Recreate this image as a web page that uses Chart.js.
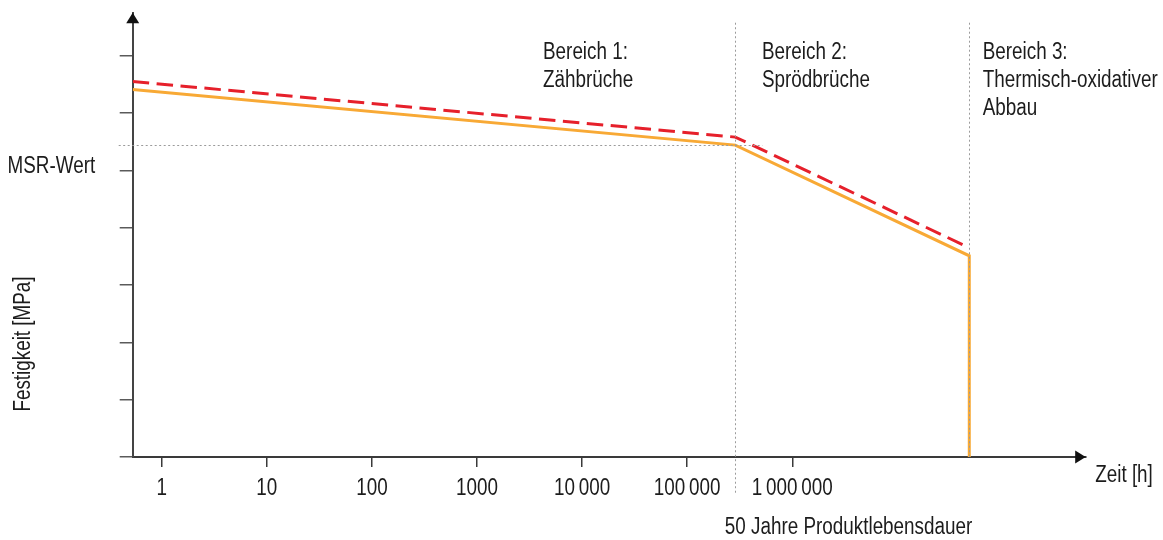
<!DOCTYPE html>
<html>
<head>
<meta charset="utf-8">
<script src="https://cdn.jsdelivr.net/npm/chart.js@4.4.1/dist/chart.umd.min.js"></script>
<style>
  html, body { margin: 0; padding: 0; background: #fff; }
  canvas { display: block; }
</style>
</head>
<body>
<canvas id="chart" width="1163" height="540"></canvas>
<script>
// Festigkeit über der Zeit (logarithmisch), drei Versagensbereiche
const hours = [0.53, 2.87e5, 4.83e7, 4.83e7];
const solidStrength = [6.41, 5.44, 3.51, 0];
const dashedStrength = [6.55, 5.58, 3.65];

const tickHours = [1, 10, 100, 1000, 10000, 100000, 1000000];
const tickLabels = ['1', '10', '100', '1000', '10\u2009000', '100\u2009000', '1\u2009000\u2009000'];
const strengthTicks = [0, 1, 2, 3, 4, 5, 6, 7];

const msrValue = 5.44;           // MSR-Wert
const lifetimeHours = 2.87e5;    // 50 Jahre Produktlebensdauer
const degradationHours = 4.83e7; // Beginn Bereich 3

const regionTitles = ['Bereich 1:', 'Bereich 2:', 'Bereich 3:'];
const regionTexts = [['Zähbrüche'], ['Sprödbrüche'], ['Thermisch-oxidativer', 'Abbau']];
const regionAnchors = [4.25e3, 5.15e5, 6.48e7];

const FONT = '"Liberation Sans", Arial, sans-serif';
const TEXT = '#1c1c1c';
const AXIS = '#3a3a3a';
const NARROW = 0.82; // schmale Schrift: horizontal gestauchte Liberation Sans

Chart.defaults.font.family = FONT;
Chart.defaults.color = TEXT;

function narrowText(ctx, text, x, y, align) {
  ctx.save();
  ctx.translate(x, y);
  ctx.scale(NARROW, 1);
  ctx.textAlign = align || 'left';
  ctx.fillText(text, 0, 0);
  ctx.restore();
}

const overlay = {
  id: 'overlay',
  afterDatasetsDraw(chart) {
    const { ctx, chartArea: a, scales: { x, y } } = chart;
    ctx.save();
    ctx.strokeStyle = '#9b9b9b';
    ctx.lineWidth = 1;
    ctx.setLineDash([2, 2.5]);
    const top = y.getPixelForValue(7.575);

    // Lebensdauer-Linie (reicht bis unter die Achsbeschriftung)
    let px = Math.round(x.getPixelForValue(lifetimeHours)) + 0.5;
    ctx.beginPath(); ctx.moveTo(px, top); ctx.lineTo(px, a.bottom + 38); ctx.stroke();

    // Grenze zu Bereich 3
    px = Math.round(x.getPixelForValue(degradationHours)) + 0.5;
    ctx.beginPath(); ctx.moveTo(px, top); ctx.lineTo(px, a.bottom); ctx.stroke();

    // MSR-Wert
    const py = Math.round(y.getPixelForValue(msrValue)) + 0.5;
    ctx.beginPath(); ctx.moveTo(a.left - 14, py); ctx.lineTo(x.getPixelForValue(5.2e5), py); ctx.stroke();
    ctx.restore();
  },
  afterDraw(chart) {
    const { ctx, chartArea: a, scales: { x, y } } = chart;
    ctx.save();

    // Pfeilspitzen der Achsen
    ctx.fillStyle = '#111';
    ctx.beginPath();
    ctx.moveTo(a.left, a.top);
    ctx.lineTo(a.left - 6.5, a.top + 10.5);
    ctx.lineTo(a.left + 6.5, a.top + 10.5);
    ctx.closePath(); ctx.fill();
    ctx.beginPath();
    ctx.moveTo(a.right, a.bottom);
    ctx.lineTo(a.right - 10.5, a.bottom - 6.5);
    ctx.lineTo(a.right - 10.5, a.bottom + 6.5);
    ctx.closePath(); ctx.fill();

    ctx.fillStyle = TEXT;
    ctx.font = '23px ' + FONT;
    ctx.textBaseline = 'alphabetic';

    // Achsbeschriftung der Zeitachse an den Skalenpositionen
    x.ticks.forEach((t, i) => {
      narrowText(ctx, tickLabels[i], x.getPixelForValue(t.value), a.bottom + 38, 'center');
    });

    // Bereichsbeschriftungen
    regionTitles.forEach((title, i) => {
      const lx = x.getPixelForValue(regionAnchors[i]);
      [title].concat(regionTexts[i]).forEach((t, j) => narrowText(ctx, t, lx, 59 + j * 28));
    });

    narrowText(ctx, 'MSR-Wert', 7.5, y.getPixelForValue(5) + 2.3);
    narrowText(ctx, 'Zeit [h]', a.right + 9.5, a.bottom + 24.7);
    narrowText(ctx, '50 Jahre Produktlebensdauer', x.getPixelForValue(lifetimeHours) - 10.5, a.bottom + 77.3);

    ctx.translate(29.5, 344);
    ctx.rotate(-Math.PI / 2);
    narrowText(ctx, 'Festigkeit [MPa]', 0, 0, 'center');
    ctx.restore();
  }
};

new Chart(document.getElementById('chart'), {
  type: 'line',
  data: {
    datasets: [
      {
        data: hours.map((h, i) => ({ x: h, y: solidStrength[i] })),
        borderColor: '#f8a935',
        borderWidth: 3,
        pointRadius: 0,
        tension: 0,
        borderJoinStyle: 'miter'
      },
      {
        data: dashedStrength.map((v, i) => ({ x: hours[i], y: v })),
        borderColor: '#e6202b',
        borderWidth: 3,
        borderDash: [16.5, 7.5],
        pointRadius: 0,
        tension: 0
      }
    ]
  },
  options: {
    responsive: false,
    animation: false,
    events: [],
    layout: { padding: { top: 12.7, right: 77.3, left: 0, bottom: 0 } },
    plugins: { legend: { display: false }, tooltip: { enabled: false } },
    scales: {
      x: {
        type: 'logarithmic',
        min: 0.53,
        max: 6.19e8,
        afterBuildTicks: s => { s.ticks = tickHours.map(v => ({ value: v })); },
        afterFit: s => { s.height = 83; },
        ticks: { display: false, autoSkip: false, maxRotation: 0 },
        grid: { drawOnChartArea: false, tickLength: 10, color: AXIS, lineWidth: 1.5 },
        border: { color: AXIS, width: 2 }
      },
      y: {
        type: 'linear',
        min: 0,
        max: 7.75,
        afterBuildTicks: s => { s.ticks = strengthTicks.map(v => ({ value: v })); },
        afterFit: s => { s.width = 132.7; },
        ticks: { display: false },
        grid: { drawOnChartArea: false, tickLength: 13, color: '#5a5a5a', lineWidth: 1.5 },
        border: { color: '#444', width: 2 }
      }
    }
  },
  plugins: [overlay]
});
</script>
</body>
</html>
